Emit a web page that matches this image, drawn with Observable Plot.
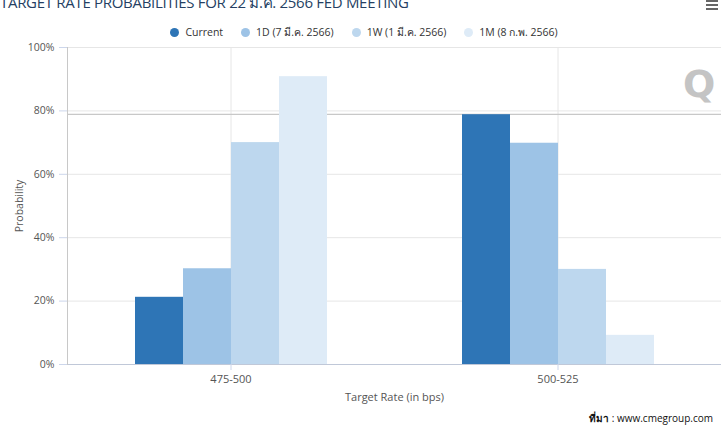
<!DOCTYPE html>
<html>
<head>
<meta charset="utf-8">
<script src="https://cdn.jsdelivr.net/npm/d3@7"></script>
<script src="https://cdn.jsdelivr.net/npm/@observablehq/plot@0.6"></script>
<style>
  html, body { margin: 0; padding: 0; background: #fff; overflow: hidden; }
  #wrap { position: relative; width: 728px; height: 430px; font-family: "Open Sans", "Noto Sans", sans-serif; }
  #chart svg { display: block; }
  .title { position: absolute; left: 0; top: -9px; font-size: 15px; color: #253f63; white-space: nowrap; letter-spacing: -0.3px; }
  .menu { position: absolute; left: 706px; top: 0; width: 12px; }
  .menu div { height: 2px; background: #666; margin-bottom: 2px; }
  .legend { position: absolute; top: 24px; left: 0; width: 728px; text-align: center; font-size: 10.5px; color: #333; white-space: nowrap; }
  .legend span.item { display: inline-block; margin: 0 9px; }
  .legend span.dot { display: inline-block; width: 9px; height: 9px; border-radius: 50%; margin-right: 6px; vertical-align: -1px; }
  .source { position: absolute; right: 15px; top: 411px; font-size: 10px; color: #111; white-space: nowrap; }
  .wm { position: absolute; left: 683px; top: 62px; font-size: 38px; font-weight: bold; color: #c4c4c4; font-family: "DejaVu Sans", sans-serif; }
  .wm2 { position: absolute; left: 664px; top: 58px; width: 30px; height: 46px; }
</style>
</head>
<body>
<div id="wrap">
  <div id="chart"></div>
  <div class="title" id="title"></div>
  <div class="menu"><div></div><div></div><div></div></div>
  <div class="legend" id="legend"></div>
  <div class="wm">Q</div>
  <div class="source"><b>ที่มา</b> : www.cmegroup.com</div>
</div>
<script>
const titleText = "TARGET RATE PROBABILITIES FOR 22 มี.ค. 2566 FED MEETING";
const categories = ["475-500", "500-525"];
const series = ["Current", "1D (7 มี.ค. 2566)", "1W (1 มี.ค. 2566)", "1M (8 ก.พ. 2566)"];
const current = [21.2, 78.8];
const oneDay = [30.2, 69.8];
const oneWeek = [70.0, 30.0];
const oneMonth = [90.8, 9.2];
const refLine = [78.9];
const yTicks = [0, 20, 40, 60, 80, 100];
const colors = ["#2e75b6", "#9dc3e6", "#bdd7ee", "#deebf7"];

const seriesValues = [current, oneDay, oneWeek, oneMonth];
const data = [];
categories.forEach((c, i) => {
  series.forEach((s, j) => data.push({rate: c, series: s, value: seriesValues[j][i]}));
});

document.getElementById("title").textContent = titleText;
const legend = document.getElementById("legend");
series.forEach((s, j) => {
  const it = document.createElement("span");
  it.className = "item";
  const dot = document.createElement("span");
  dot.className = "dot";
  dot.style.background = colors[j];
  it.appendChild(dot);
  it.appendChild(document.createTextNode(s));
  legend.appendChild(it);
});

const fmt = d => d + "%";
const chart = Plot.plot({
  width: 728,
  height: 430,
  marginTop: 47,
  marginBottom: 66,
  marginLeft: 66,
  marginRight: 7,
  style: {fontFamily: '"Open Sans", "Noto Sans", sans-serif', fontSize: "10px", color: "#555", background: "transparent"},
  fx: {domain: categories, padding: 0},
  x: {domain: series, paddingInner: 0, paddingOuter: 1.4, axis: null},
  y: {domain: [0, 100], ticks: yTicks, tickFormat: fmt},
  color: {domain: series, range: colors},
  marks: [
    Plot.gridY(yTicks, {stroke: "#e6e6e6", strokeOpacity: 1}),
    Plot.gridFx({stroke: "#e6e6e6", strokeOpacity: 1}),
    Plot.ruleY(refLine, {stroke: "#c8c8c8", strokeWidth: 1.2}),
    Plot.barY(data, {fx: "rate", x: "series", y: "value", fill: "series"}),
    Plot.ruleY([0], {stroke: "#c0c8d8"}),
    Plot.frame({anchor: "left", facetAnchor: "left", stroke: "#c8c8c8"}),
    Plot.axisY(yTicks, {tickFormat: fmt, tickSize: 8, tickPadding: 5, stroke: "#ccd6eb", strokeOpacity: 1,
      label: "Probability", labelAnchor: "center", labelOffset: 52, labelArrow: "none", fontSize: 10.5}),
    Plot.axisFx({anchor: "bottom", tickSize: 6, tickPadding: 5, stroke: "#ccd6eb", strokeOpacity: 1, fontSize: 11,
      label: "Target Rate (in bps)", labelAnchor: "center", labelOffset: 36, labelArrow: "none"})
  ]
});
document.getElementById("chart").appendChild(chart);
</script>
</body>
</html>
